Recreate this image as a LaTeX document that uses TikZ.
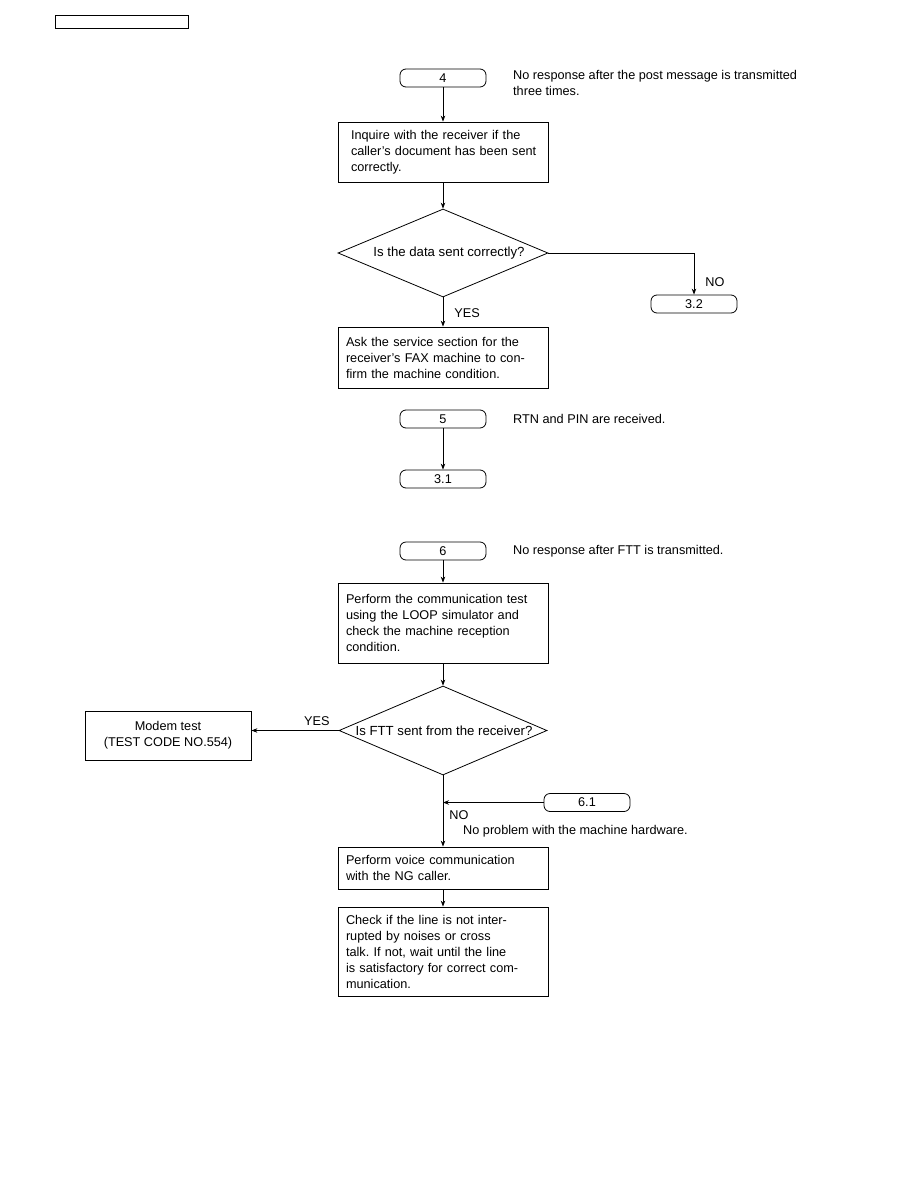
\documentclass[tikz,border=0pt]{standalone}
\usepackage{fontspec}
\setmainfont{Liberation Sans}
\usetikzlibrary{positioning,arrows.meta,shapes.geometric}

\begin{document}
\frenchspacing
\begin{tikzpicture}[x=1pt, y=-1pt,
  font=\fontsize{12.7}{16}\selectfont,
  proc/.style={draw, line width=0.8pt, align=left, text width=194pt, inner xsep=8pt,
               inner ysep=0pt},
  term/.style={draw, line width=0.8pt, rounded corners=6pt, minimum width=86pt,
               minimum height=18pt, inner sep=0pt},
  dec/.style={diamond, draw, line width=0.8pt, inner sep=0pt},
  qtext/.style={font=\fontsize{13.2}{16}\selectfont},
  arr/.style={-{Stealth[length=6pt,width=4.5pt]}, line width=0.8pt},
  note/.style={align=left, anchor=west, inner sep=0pt},
  lab/.style={inner sep=1pt}]
\useasboundingbox (0,0) rectangle (918,1188);
\node[draw, line width=0.8pt, minimum width=133pt, minimum height=13pt, inner sep=0pt] (hdr) at (121.5,21.5) {};
% post message
\node[term] (t4) at (443,78) {4};
\node[note] (n4) at (513,83) {No response after the post message is transmitted\\three times.};
\node[proc, minimum height=60pt, inner xsep=13pt, text width=184pt] (ask) at (443,152)
  {Inquire with the receiver if the\\\mbox{caller's document has been sent}\\correctly.};
\node[dec, minimum width=210pt, minimum height=88pt,
      label={[qtext, xshift=6pt]center:Is the data sent correctly?}] (d1) at (443,253) {};
\node[term] (t32) at (694,304) {3.2};
\node[proc, minimum height=61pt] (svc) at (443,357.5)
  {Ask the service section for the\\receiver's FAX machine to con-\\firm the machine condition.};
\draw[arr] (t4) -- (ask);
\draw[arr] (ask) -- (d1);
\draw[arr] (d1.east) -| node[lab, pos=0.85, right=10pt]{NO} (t32.north);
\draw[arr] (d1.south) -- node[lab, pos=0.55, right=10pt]{YES} (svc.north);
% RTN, PIN
\node[term] (t5) at (443,419) {5};
\node[note] (n5) at (513,419) {RTN and PIN are received.};
\node[term] (t31) at (443,479) {3.1};
\draw[arr] (t5) -- (t31);
% FTT
\node[term] (t6) at (443,551) {6};
\node[note] (n6) at (513,551) {No response after FTT is transmitted.};
\node[proc, minimum height=80pt] (loop) at (443,623)
  {Perform the communication test\\using the LOOP simulator and\\check the machine reception\\condition.};
\node[dec, minimum width=208pt, minimum height=89pt,
      label={[qtext, xshift=1pt]center:Is FTT sent from the receiver?}] (d2) at (443,730.5) {};
\node[draw, line width=0.8pt, minimum width=166pt, minimum height=49pt, align=center,
      inner sep=0pt] (modem) at (168,735.5) {Modem test\\(TEST CODE NO.554)};
\node[term] (t61) at (587,802.5) {6.1};
\node[proc, minimum height=42pt] (voice) at (443,868)
  {Perform voice communication\\with the NG caller.};
\node[proc, minimum height=89pt] (line) at (443,951.5)
  {Check if the line is not inter-\\rupted by noises or cross\\talk. If not, wait until the line\\is satisfactory for correct com-\\munication.};
\node[note] (n61) at (463,831) {No problem with the machine hardware.};
\draw[arr] (t6) -- (loop);
\draw[arr] (loop) -- (d2);
\draw[arr] (d2.west) -- node[lab, pos=0.25, above=3pt]{YES} (d2.west -| modem.east);
\draw[arr] (d2.south) -- node[lab, pos=0.56, right=5pt]{NO} (voice.north);
\draw[arr] (t61.west) -- (t61.west -| d2.south);
\draw[arr] (voice) -- (line);
\end{tikzpicture}
\end{document}
